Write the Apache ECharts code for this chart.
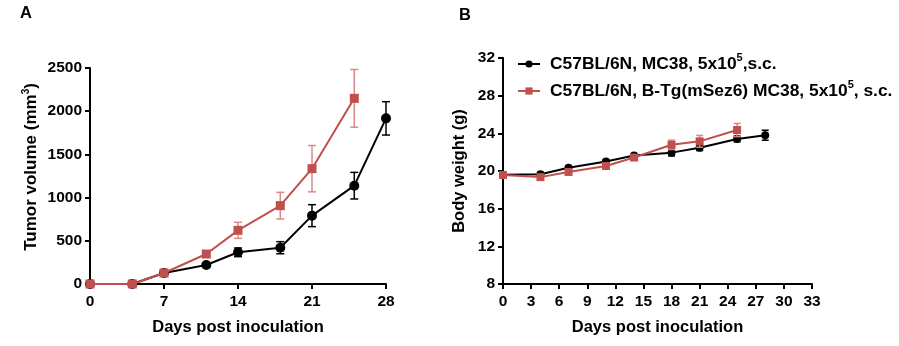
<!DOCTYPE html>
<html>
<head>
<meta charset="utf-8">
<script src="https://cdn.jsdelivr.net/npm/echarts@6/dist/echarts.min.js"></script>
<style>
html,body{margin:0;padding:0;background:#fff;}
#chart{width:899px;height:346px;}
</style>
</head>
<body>
<div id="chart"></div>
<script>
// ---- Data ----
const daysCtrl = [0, 4, 7, 11, 14, 18, 21, 25, 28];
const daysTg = [0, 4, 7, 11, 14, 18, 21, 25];

const tumorCtrl = [0, 0, 127, 220, 367, 420, 791, 1138, 1917];
const tumorCtrlErr = [0, 0, 15, 20, 50, 70, 127, 154, 193];
const tumorTg = [0, 0, 127, 347, 621, 907, 1335, 2149];
const tumorTgErr = [0, 0, 20, 28, 93, 154, 268, 334];

const weightCtrl = [19.6, 19.65, 20.35, 21.0, 21.65, 21.95, 22.47, 23.4, 23.8];
const weightCtrlErr = [0.2, 0.2, 0.2, 0.2, 0.2, 0.35, 0.3, 0.3, 0.53];
const weightTg = [19.58, 19.35, 19.9, 20.53, 21.43, 22.78, 23.15, 24.35];
const weightTgErr = [0.2, 0.2, 0.2, 0.2, 0.2, 0.5, 0.63, 0.7];

const nameCtrl = 'C57BL/6N, MC38, 5x10⁵,s.c.';
const nameTg = 'C57BL/6N, B-Tg(mSez6) MC38, 5x10⁵, s.c.';
const panelLabels = ['A', 'B'];
const xTitle = 'Days post inoculation';
const yTitleA = 'Tumor volume (mm{sup|3})';
const yTitleB = 'Body weight (g)';

// ---- Styles ----
const FONT = 'Arial, "Liberation Sans", Helvetica, sans-serif';
const RED = '#C0504D';
const RED_ERR = '#D98A88';
const BLACK = '#000000';

function pts(xs, ys) { return xs.map((x, i) => [x, ys[i]]); }

function errSeries(xs, ys, es, idx, color, capW, z) {
  return {
    type: 'custom',
    xAxisIndex: idx, yAxisIndex: idx,
    silent: true, z: z,
    data: xs.map((x, i) => [x, ys[i] - es[i], ys[i] + es[i]]),
    encode: { x: 0, y: [1, 2] },
    renderItem: function (params, api) {
      const x = api.value(0);
      const lo = api.coord([x, api.value(1)]);
      const hi = api.coord([x, api.value(2)]);
      const hw = capW / 2;
      const st = { stroke: color, lineWidth: 1.5 };
      return {
        type: 'group',
        children: [
          { type: 'line', shape: { x1: lo[0], y1: lo[1], x2: hi[0], y2: hi[1] }, style: st },
          { type: 'line', shape: { x1: hi[0] - hw, y1: hi[1], x2: hi[0] + hw, y2: hi[1] }, style: st },
          { type: 'line', shape: { x1: lo[0] - hw, y1: lo[1], x2: lo[0] + hw, y2: lo[1] }, style: st }
        ]
      };
    }
  };
}

const axisLine = { show: true, onZero: false, lineStyle: { color: BLACK, width: 2 } };
const axisTick = { show: true, inside: false, length: 5, lineStyle: { color: BLACK, width: 2 } };
const plainNum = v => String(v);
const yLabel = { color: BLACK, fontFamily: FONT, fontWeight: 'bold', fontSize: 15.5, margin: 8, formatter: plainNum };
const xLabel = { color: BLACK, fontFamily: FONT, fontWeight: 'bold', fontSize: 15.5, margin: 10, formatter: plainNum };
const titleStyle = { color: BLACK, fontFamily: FONT, fontWeight: 'bold', fontSize: 16.5 };
const supStyle = { fontSize: 10, fontWeight: 'bold', fontFamily: FONT, color: BLACK, verticalAlign: 'top', padding: [0, 0, 11, 0] };
const supLegend = { fontSize: 11, fontWeight: 'bold', fontFamily: FONT, color: BLACK, verticalAlign: 'top', padding: [0, 0, 13, 0] };

const legendText = {
  color: BLACK, fontFamily: FONT, fontWeight: 'bold', fontSize: 17.4,
  padding: [0, 0, 0, 5],
  rich: { sup: supLegend }
};
const legendFmt = n => n.replace('⁵', '{sup|5}');

const option = {
  backgroundColor: '#fff',
  animation: false,
  title: [
    { text: panelLabels[0], left: 20, top: 5, padding: 0, textStyle: { fontFamily: FONT, fontWeight: 'bold', fontSize: 16.5, color: BLACK } },
    { text: panelLabels[1], left: 459, top: 7, padding: 0, textStyle: { fontFamily: FONT, fontWeight: 'bold', fontSize: 16.5, color: BLACK } }
  ],
  legend: [
    { data: [nameCtrl], left: 512, top: 47, itemWidth: 22, itemHeight: 9, textStyle: legendText, formatter: legendFmt },
    { data: [nameTg], left: 512, top: 74, itemWidth: 22, itemHeight: 9, textStyle: legendText, formatter: legendFmt }
  ],
  grid: [
    { left: 90, right: 513, top: 68, bottom: 62 },
    { left: 503, right: 87, top: 58, bottom: 62 }
  ],
  xAxis: [
    { gridIndex: 0, type: 'value', min: 0, max: 28, interval: 7, axisLine, axisTick, axisLabel: xLabel, splitLine: { show: false },
      name: xTitle, nameLocation: 'middle', nameGap: 35, nameTextStyle: titleStyle },
    { gridIndex: 1, type: 'value', min: 0, max: 33, interval: 3, axisLine, axisTick, axisLabel: xLabel, splitLine: { show: false },
      name: xTitle, nameLocation: 'middle', nameGap: 35, nameTextStyle: titleStyle }
  ],
  yAxis: [
    { gridIndex: 0, type: 'value', min: 0, max: 2500, interval: 500, axisLine, axisTick, axisLabel: yLabel, splitLine: { show: false },
      name: yTitleA, nameLocation: 'middle', nameGap: 48, nameRotate: 90,
      nameTextStyle: Object.assign({}, titleStyle, { fontSize: 17, padding: [0, 0, 0, 18], rich: { sup: supStyle } }) },
    { gridIndex: 1, type: 'value', min: 8, max: 32, interval: 4, axisLine, axisTick, axisLabel: yLabel, splitLine: { show: false },
      name: yTitleB, nameLocation: 'middle', nameGap: 35, nameRotate: 90, nameTextStyle: titleStyle }
  ],
  series: [
    // Panel B
    errSeries(daysCtrl, weightCtrl, weightCtrlErr, 1, BLACK, 7, 2),
    { name: nameCtrl, type: 'line', xAxisIndex: 1, yAxisIndex: 1, data: pts(daysCtrl, weightCtrl),
      symbol: 'circle', symbolSize: 8, lineStyle: { color: BLACK, width: 2 }, itemStyle: { color: BLACK }, z: 3 },
    errSeries(daysTg, weightTg, weightTgErr, 1, RED_ERR, 7, 4),
    { name: nameTg, type: 'line', xAxisIndex: 1, yAxisIndex: 1, data: pts(daysTg, weightTg),
      symbol: 'rect', symbolSize: 8, lineStyle: { color: RED, width: 2 }, itemStyle: { color: RED }, z: 5 },
    // Panel A
    errSeries(daysCtrl, tumorCtrl, tumorCtrlErr, 0, BLACK, 8, 2),
    { name: 'A ctrl', type: 'line', xAxisIndex: 0, yAxisIndex: 0, data: pts(daysCtrl, tumorCtrl),
      symbol: 'circle', symbolSize: 10, lineStyle: { color: BLACK, width: 2 }, itemStyle: { color: BLACK }, z: 3 },
    errSeries(daysTg, tumorTg, tumorTgErr, 0, RED_ERR, 8, 4),
    { name: 'A tg', type: 'line', xAxisIndex: 0, yAxisIndex: 0, data: pts(daysTg, tumorTg),
      symbol: 'rect', symbolSize: 9, lineStyle: { color: RED, width: 2 }, itemStyle: { color: RED }, z: 5 }
  ]
};

const chart = echarts.init(document.getElementById('chart'), null, { renderer: 'canvas' });
chart.setOption(option);
</script>
</body>
</html>
